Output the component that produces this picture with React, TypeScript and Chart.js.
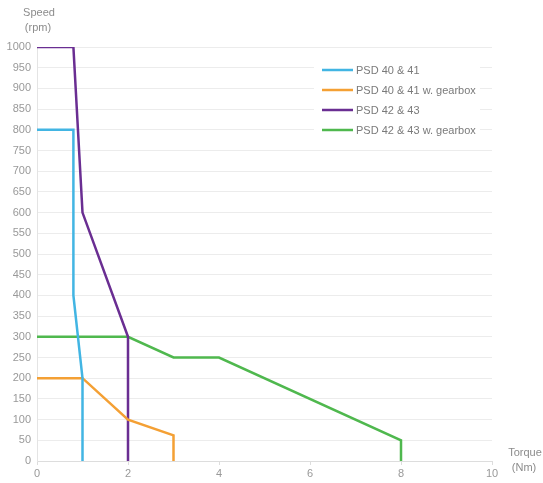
import React, { useEffect, useRef } from "react";
import { Chart, registerables } from "chart.js";

Chart.register(...registerables);

const seriesLabels = ["PSD 40 & 41", "PSD 40 & 41 w. gearbox", "PSD 42 & 43", "PSD 42 & 43 w. gearbox"];
const seriesColors = ["#42b5e3", "#f4a034", "#6a2e92", "#4fb84e"];

const psd4041Torque = [0, 0.8, 0.8, 1, 1];
const psd4041Speed = [800, 800, 400, 200, 0];

const psd4041GearTorque = [0, 1, 2, 3, 3];
const psd4041GearSpeed = [200, 200, 100, 62, 0];

const psd4243Torque = [0, 0.8, 1, 2, 2];
const psd4243Speed = [1000, 1000, 600, 300, 0];

const psd4243GearTorque = [0, 2, 3, 4, 8, 8];
const psd4243GearSpeed = [300, 300, 250, 250, 50, 0];

const xTitle = ["Torque", "(Nm)"];
const yTitle = ["Speed", "(rpm)"];

const FONT = "'Liberation Sans', Arial, sans-serif";

function toPoints(xs: number[], ys: number[]) {
  return xs.map((x, i) => ({ x, y: ys[i] }));
}

const overlayPlugin = {
  id: "overlay",
  afterDatasetsDraw(chart: any) {
    const ctx = chart.ctx as CanvasRenderingContext2D;
    const area = chart.chartArea;
    ctx.save();
    // legend box
    const lx = area.left + 285;
    const ly = area.top + 23;
    ctx.fillStyle = "#ffffff";
    ctx.fillRect(lx - 8, ly - 10, 166, 80);
    ctx.font = `11px ${FONT}`;
    ctx.textBaseline = "middle";
    ctx.textAlign = "left";
    chart.data.datasets.forEach((ds: any, i: number) => {
      const y = ly + i * 20;
      ctx.strokeStyle = ds.borderColor;
      ctx.lineWidth = 2.5;
      ctx.beginPath();
      ctx.moveTo(lx, y);
      ctx.lineTo(lx + 31, y);
      ctx.stroke();
      ctx.fillStyle = "#7a7a7a";
      ctx.fillText(ds.label, lx + 34, y + 0.5);
    });
    // axis titles
    ctx.fillStyle = "#8c8c8c";
    ctx.font = `11px ${FONT}`;
    ctx.textAlign = "center";
    ctx.fillText(yTitle[0], 39, 13);
    ctx.fillText(yTitle[1], 38, 28);
    ctx.fillText(xTitle[0], 525, 453);
    ctx.fillText(xTitle[1], 524, 468);
    ctx.restore();
  },
};

export default function App() {
  const canvasRef = useRef<HTMLCanvasElement | null>(null);

  useEffect(() => {
    if (!canvasRef.current) return;
    const datasets = [
      toPoints(psd4041Torque, psd4041Speed),
      toPoints(psd4041GearTorque, psd4041GearSpeed),
      toPoints(psd4243Torque, psd4243Speed),
      toPoints(psd4243GearTorque, psd4243GearSpeed),
    ].map((data, i) => ({
      label: seriesLabels[i],
      data,
      borderColor: seriesColors[i],
      backgroundColor: seriesColors[i],
      borderWidth: 2.5,
      pointRadius: 0,
      tension: 0,
      fill: false,
    }));

    const chart = new Chart(canvasRef.current, {
      type: "line",
      data: { datasets },
      options: {
        animation: false,
        responsive: true,
        maintainAspectRatio: false,
        layout: { padding: { top: 47, right: 51, bottom: 0, left: 0 } },
        plugins: {
          legend: { display: false },
          tooltip: { enabled: false },
        },
        scales: {
          x: {
            type: "linear",
            min: 0,
            max: 10,
            ticks: {
              stepSize: 2,
              color: "#999999",
              font: { size: 11, family: FONT },
              padding: 2,
              callback: (v: any) => String(v),
            },
            grid: {
              drawOnChartArea: false,
              drawTicks: true,
              tickLength: 4,
              color: "#dddddd",
            },
            border: { color: "#dddddd" },
            afterFit: (scale: any) => {
              scale.height = 22;
            },
          },
          y: {
            type: "linear",
            min: 0,
            max: 1000,
            ticks: {
              stepSize: 50,
              color: "#999999",
              font: { size: 11, family: FONT },
              padding: 6,
              callback: (v: any) => String(v),
            },
            grid: {
              color: "#ececec",
              drawTicks: false,
            },
            border: { color: "#e4e4e4" },
            afterFit: (scale: any) => {
              scale.width = 37;
            },
          },
        },
      },
      plugins: [overlayPlugin],
    });
    return () => chart.destroy();
  }, []);

  return (
    <div style={{ position: "fixed", left: 0, top: 0, width: 543, height: 483, background: "#fff" }}>
      <canvas ref={canvasRef} />
    </div>
  );
}
